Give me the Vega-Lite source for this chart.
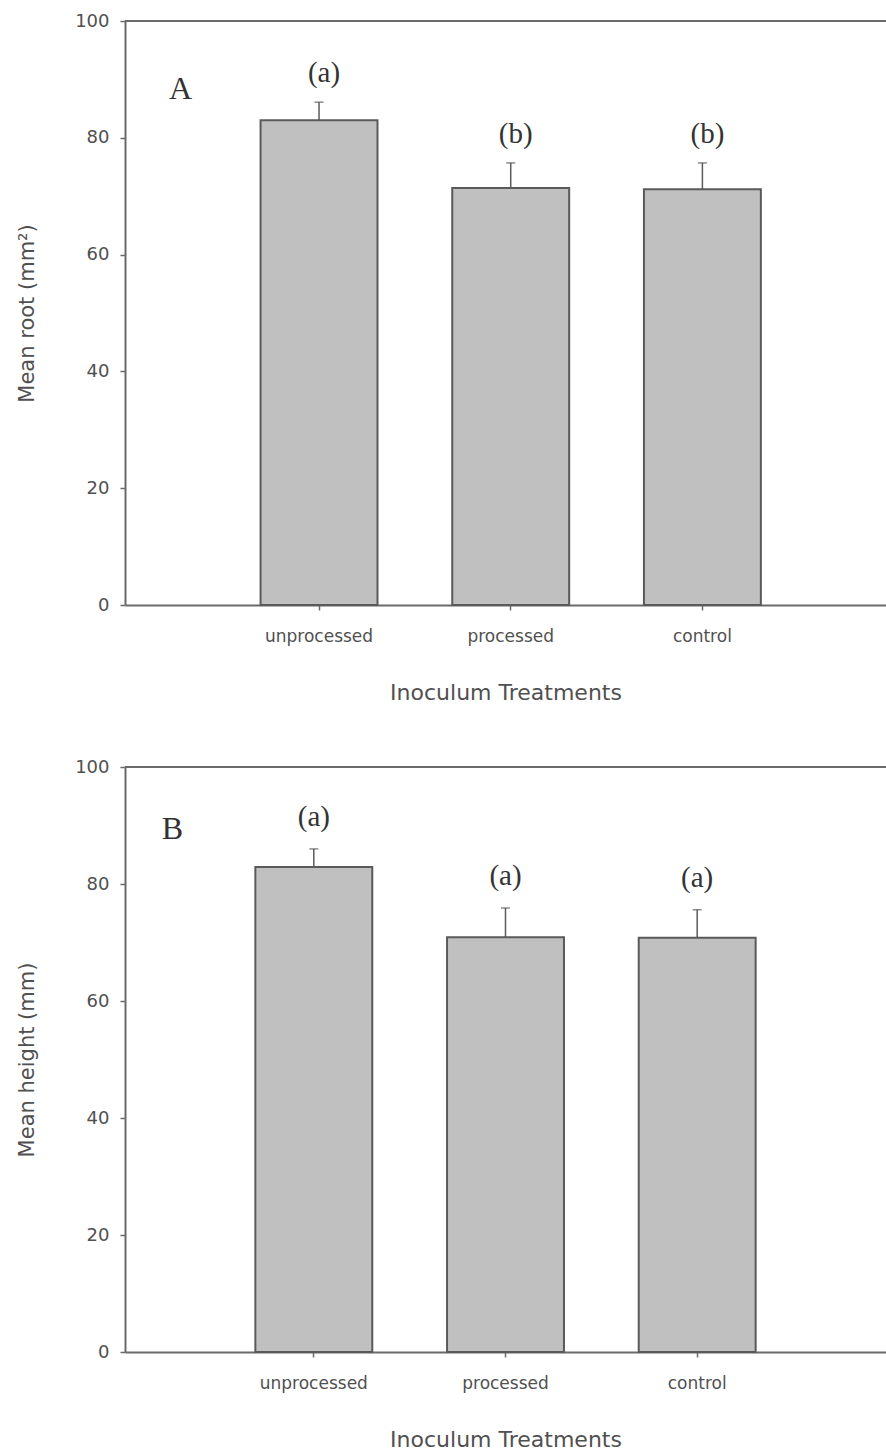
{
  "$schema": "https://vega.github.io/schema/vega-lite/v6.json",
  "padding": {"left": 16, "top": 12, "right": 0, "bottom": 0},
  "background": "white",
  "bounds": "flush",
  "spacing": 162,
  "config": {
    "view": {"stroke": null},
    "axis": {
      "domainColor": "#6a6a6a",
      "domainWidth": 2,
      "tickColor": "#6a6a6a",
      "tickWidth": 1.5,
      "tickSize": 5,
      "labelColor": "#505050",
      "labelFont": "DejaVu Sans",
      "titleColor": "#505050",
      "titleFont": "DejaVu Sans",
      "titleFontWeight": "normal",
      "grid": false
    },
    "axisX": {"labelFontSize": 17, "labelPadding": 18, "titleFontSize": 22, "titlePadding": 38, "labelAngle": 0},
    "axisY": {"labelFontSize": 18, "labelPadding": 11, "titleFontSize": 21, "titlePadding": 37}
  },
  "datasets": {
    "rootA": [
      {"treatment": "unprocessed", "mean": 83.0, "upper": 86.1, "letter": "(a)"},
      {"treatment": "processed", "mean": 71.4, "upper": 75.7, "letter": "(b)"},
      {"treatment": "control", "mean": 71.2, "upper": 75.7, "letter": "(b)"}
    ],
    "heightB": [
      {"treatment": "unprocessed", "mean": 82.9, "upper": 86.0, "letter": "(a)"},
      {"treatment": "processed", "mean": 70.9, "upper": 75.9, "letter": "(a)"},
      {"treatment": "control", "mean": 70.8, "upper": 75.6, "letter": "(a)"}
    ],
    "panelA": [{"panel": "A", "treatment": "unprocessed", "level": 88.4}],
    "panelB": [{"panel": "B", "treatment": "unprocessed", "level": 89.4}]
  },
  "vconcat": [
    {
      "width": 761,
      "height": 584,
      "layer": [
        {
          "data": {"name": "rootA"},
          "mark": {"type": "bar", "fill": "#c0c0c0", "stroke": "#5a5a5a", "strokeWidth": 2},
          "encoding": {
            "x": {
              "field": "treatment", "type": "nominal", "sort": ["unprocessed", "processed", "control"],
              "scale": {"paddingInner": 0.39, "paddingOuter": 0.68, "align": 0.52},
              "axis": {"title": "Inoculum Treatments"}
            },
            "y": {
              "field": "mean", "type": "quantitative",
              "scale": {"domain": [0, 100], "nice": false},
              "axis": {"title": "Mean root (mm²)", "values": [0, 20, 40, 60, 80, 100]}
            }
          }
        },
        {
          "data": {"name": "rootA"},
          "mark": {"type": "rule", "color": "#5a5a5a", "strokeWidth": 1.5},
          "encoding": {
            "x": {"field": "treatment", "type": "nominal", "sort": ["unprocessed", "processed", "control"]},
            "y": {"field": "mean", "type": "quantitative"},
            "y2": {"field": "upper"}
          }
        },
        {
          "data": {"name": "rootA"},
          "mark": {"type": "tick", "orient": "horizontal", "color": "#5a5a5a", "size": 9, "thickness": 1.5},
          "encoding": {
            "x": {"field": "treatment", "type": "nominal", "sort": ["unprocessed", "processed", "control"]},
            "y": {"field": "upper", "type": "quantitative"}
          }
        },
        {
          "data": {"name": "rootA"},
          "mark": {"type": "text", "font": "Liberation Serif", "fontSize": 29, "color": "#333333", "baseline": "middle", "dy": -29, "dx": 5},
          "encoding": {
            "x": {"field": "treatment", "type": "nominal", "sort": ["unprocessed", "processed", "control"]},
            "y": {"field": "upper", "type": "quantitative"},
            "text": {"field": "letter"}
          }
        },
        {
          "data": {"name": "panelA"},
          "mark": {"type": "text", "font": "Liberation Serif", "fontSize": 32, "color": "#333333", "align": "left", "baseline": "middle", "dx": -150},
          "encoding": {
            "x": {"field": "treatment", "type": "nominal", "sort": ["unprocessed", "processed", "control"]},
            "y": {"field": "level", "type": "quantitative"},
            "text": {"field": "panel"}
          }
        },
        {
          "data": {"values": [{"top": 100}]},
          "mark": {"type": "rule", "color": "#6a6a6a", "strokeWidth": 2},
          "encoding": {"y": {"field": "top", "type": "quantitative"}}
        }
      ]
    },
    {
      "width": 761,
      "height": 585,
      "layer": [
        {
          "data": {"name": "heightB"},
          "mark": {"type": "bar", "fill": "#c0c0c0", "stroke": "#5a5a5a", "strokeWidth": 2},
          "encoding": {
            "x": {
              "field": "treatment", "type": "nominal", "sort": ["unprocessed", "processed", "control"],
              "scale": {"paddingInner": 0.39, "paddingOuter": 0.68, "align": 0.5},
              "axis": {"title": "Inoculum Treatments"}
            },
            "y": {
              "field": "mean", "type": "quantitative",
              "scale": {"domain": [0, 100], "nice": false},
              "axis": {"title": "Mean height (mm)", "values": [0, 20, 40, 60, 80, 100]}
            }
          }
        },
        {
          "data": {"name": "heightB"},
          "mark": {"type": "rule", "color": "#5a5a5a", "strokeWidth": 1.5},
          "encoding": {
            "x": {"field": "treatment", "type": "nominal", "sort": ["unprocessed", "processed", "control"]},
            "y": {"field": "mean", "type": "quantitative"},
            "y2": {"field": "upper"}
          }
        },
        {
          "data": {"name": "heightB"},
          "mark": {"type": "tick", "orient": "horizontal", "color": "#5a5a5a", "size": 9, "thickness": 1.5},
          "encoding": {
            "x": {"field": "treatment", "type": "nominal", "sort": ["unprocessed", "processed", "control"]},
            "y": {"field": "upper", "type": "quantitative"}
          }
        },
        {
          "data": {"name": "heightB"},
          "mark": {"type": "text", "font": "Liberation Serif", "fontSize": 29, "color": "#333333", "baseline": "middle", "dy": -32},
          "encoding": {
            "x": {"field": "treatment", "type": "nominal", "sort": ["unprocessed", "processed", "control"]},
            "y": {"field": "upper", "type": "quantitative"},
            "text": {"field": "letter"}
          }
        },
        {
          "data": {"name": "panelB"},
          "mark": {"type": "text", "font": "Liberation Serif", "fontSize": 32, "color": "#333333", "align": "left", "baseline": "middle", "dx": -152},
          "encoding": {
            "x": {"field": "treatment", "type": "nominal", "sort": ["unprocessed", "processed", "control"]},
            "y": {"field": "level", "type": "quantitative"},
            "text": {"field": "panel"}
          }
        },
        {
          "data": {"values": [{"top": 100}]},
          "mark": {"type": "rule", "color": "#6a6a6a", "strokeWidth": 2},
          "encoding": {"y": {"field": "top", "type": "quantitative"}}
        }
      ]
    }
  ]
}
